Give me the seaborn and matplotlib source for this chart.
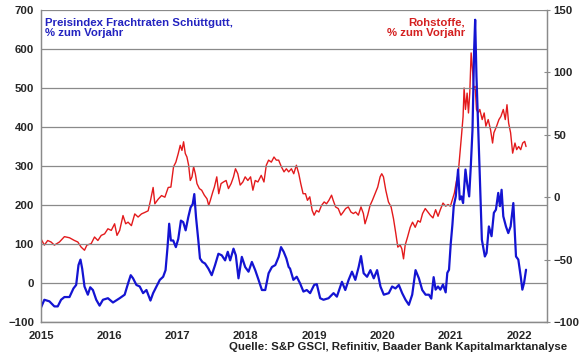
import pandas as pd
import matplotlib
matplotlib.use("Agg")
import matplotlib.pyplot as plt
import seaborn as sns

# Preisindex Frachtraten Schuettgut, % zum Vorjahr (linke Achse)
blue_year = [
    2015.000, 2015.049, 2015.123, 2015.196, 2015.245, 2015.294, 2015.343, 2015.417,
    2015.475, 2015.515, 2015.549, 2015.578, 2015.603, 2015.637, 2015.686, 2015.721,
    2015.760, 2015.809, 2015.858, 2015.907, 2015.980, 2016.054, 2016.152, 2016.225,
    2016.275, 2016.314, 2016.348, 2016.397, 2016.446, 2016.495, 2016.544, 2016.603,
    2016.642, 2016.691, 2016.740, 2016.789, 2016.824, 2016.853, 2016.877, 2016.902,
    2016.936, 2016.975, 2017.010, 2017.049, 2017.083, 2017.118, 2017.157, 2017.191,
    2017.221, 2017.245, 2017.270, 2017.304, 2017.328, 2017.363, 2017.402, 2017.451,
    2017.500, 2017.549, 2017.598, 2017.647, 2017.696, 2017.735, 2017.770, 2017.819,
    2017.853, 2017.892, 2017.941, 2017.990, 2018.039, 2018.088, 2018.137, 2018.186,
    2018.235, 2018.284, 2018.333, 2018.382, 2018.431, 2018.480, 2018.515, 2018.554,
    2018.593, 2018.627, 2018.647, 2018.696, 2018.745, 2018.794, 2018.843, 2018.892,
    2018.941, 2019.000, 2019.039, 2019.088, 2019.137, 2019.211, 2019.284, 2019.333,
    2019.407, 2019.456, 2019.505, 2019.554, 2019.603, 2019.652, 2019.686, 2019.725,
    2019.775, 2019.824, 2019.873, 2019.922, 2019.971, 2020.020, 2020.093, 2020.142,
    2020.191, 2020.240, 2020.289, 2020.338, 2020.387, 2020.436, 2020.485, 2020.534,
    2020.583, 2020.632, 2020.681, 2020.715, 2020.750, 2020.779, 2020.814, 2020.848,
    2020.887, 2020.926, 2020.950, 2020.975, 2021.000, 2021.025, 2021.044, 2021.074,
    2021.108, 2021.132, 2021.157, 2021.181, 2021.216, 2021.240, 2021.270, 2021.294,
    2021.319, 2021.343, 2021.358, 2021.377, 2021.402, 2021.426, 2021.456, 2021.500,
    2021.525, 2021.559, 2021.598, 2021.632, 2021.662, 2021.696, 2021.721, 2021.745,
    2021.770, 2021.809, 2021.843, 2021.877, 2021.917, 2021.956, 2021.990, 2022.025,
    2022.049, 2022.074, 2022.103,
]
blue_val = [
    -63, -43, -47, -60, -60, -43, -36, -36,
    -14, -5, 46, 60, 37, -9, -30, -11,
    -18, -43, -58, -43, -39, -50, -39, -30,
    -1, 20, 12, -5, -9, -26, -18, -45,
    -26, -9, 8, 16, 33, 92, 152, 109,
    109, 92, 113, 160, 156, 135, 169, 194,
    202, 228, 169, 109, 63, 54, 50, 37,
    20, 46, 75, 71, 58, 80, 58, 88,
    71, 12, 67, 41, 29, 54, 33, 8,
    -18, -18, 25, 41, 46, 67, 92, 80,
    63, 41, 37, 8, 16, -1, -22, -18,
    -26, -5, -3, -39, -43, -39, -26, -35,
    3, -18, 8, 29, 8, 41, 69, 25,
    16, 33, 12, 33, -9, -30, -26, -9,
    -14, -5, -26, -43, -56, -30, 33, 12,
    -18, -30, -30, -40, 15, -17, -9, -17,
    -4, -24, 26, 34, 100, 150, 197, 222,
    291, 214, 222, 205, 291, 256, 222, 299,
    393, 598, 675, 530, 402, 274, 111, 68,
    77, 145, 120, 180, 188, 231, 197, 239,
    171, 145, 128, 145, 205, 68, 60, 17,
    -17, 0, 34,
]

# Rohstoffe (S&P GSCI), % zum Vorjahr (rechte Achse)
red_year = [
    2015.000, 2015.049, 2015.098, 2015.147, 2015.196, 2015.270, 2015.343, 2015.417,
    2015.490, 2015.539, 2015.588, 2015.637, 2015.672, 2015.735, 2015.784, 2015.833,
    2015.882, 2015.931, 2015.980, 2016.029, 2016.078, 2016.113, 2016.152, 2016.201,
    2016.240, 2016.275, 2016.324, 2016.373, 2016.422, 2016.471, 2016.520, 2016.569,
    2016.603, 2016.642, 2016.667, 2016.716, 2016.765, 2016.814, 2016.838, 2016.863,
    2016.902, 2016.941, 2016.975, 2017.010, 2017.039, 2017.064, 2017.088, 2017.113,
    2017.137, 2017.162, 2017.186, 2017.211, 2017.235, 2017.260, 2017.284, 2017.319,
    2017.353, 2017.392, 2017.431, 2017.456, 2017.480, 2017.515, 2017.539, 2017.574,
    2017.603, 2017.637, 2017.672, 2017.711, 2017.745, 2017.784, 2017.819, 2017.848,
    2017.882, 2017.917, 2017.956, 2017.990, 2018.029, 2018.069, 2018.103, 2018.137,
    2018.176, 2018.225, 2018.265, 2018.299, 2018.333, 2018.373, 2018.412, 2018.446,
    2018.480, 2018.520, 2018.559, 2018.593, 2018.627, 2018.667, 2018.701, 2018.740,
    2018.775, 2018.804, 2018.838, 2018.873, 2018.902, 2018.936, 2018.971, 2019.000,
    2019.034, 2019.069, 2019.108, 2019.147, 2019.181, 2019.216, 2019.255, 2019.279,
    2019.314, 2019.353, 2019.392, 2019.426, 2019.461, 2019.500, 2019.539, 2019.574,
    2019.608, 2019.647, 2019.686, 2019.721, 2019.745, 2019.784, 2019.819, 2019.853,
    2019.892, 2019.931, 2019.966, 2019.990, 2020.015, 2020.049, 2020.088, 2020.127,
    2020.162, 2020.196, 2020.225, 2020.260, 2020.284, 2020.309, 2020.333, 2020.368,
    2020.407, 2020.441, 2020.480, 2020.520, 2020.554, 2020.588, 2020.627, 2020.667,
    2020.701, 2020.740, 2020.779, 2020.814, 2020.848, 2020.887, 2020.926, 2020.961,
    2020.995, 2021.025, 2021.054, 2021.083, 2021.108, 2021.132, 2021.157, 2021.181,
    2021.196, 2021.216, 2021.240, 2021.260, 2021.279, 2021.299, 2021.319, 2021.338,
    2021.358, 2021.377, 2021.402, 2021.426, 2021.461, 2021.490, 2021.515, 2021.549,
    2021.583, 2021.613, 2021.632, 2021.672, 2021.706, 2021.735, 2021.770, 2021.799,
    2021.824, 2021.848, 2021.877, 2021.907, 2021.941, 2021.966, 2021.995, 2022.025,
    2022.054, 2022.083, 2022.103,
]
red_val = [
    -33.4, -38.4, -34.7, -35.9, -38.4, -35.9, -31.6, -32.5,
    -34.7, -35.9, -40.0, -42.5, -38.4, -37.2, -31.9, -34.7,
    -30.6, -29.4, -25.3, -26.6, -21.3, -30.6, -26.6, -14.7,
    -21.3, -20.0, -22.8, -13.4, -15.9, -13.4, -12.2, -10.9,
    -2.8, 7.8, -5.3, -1.6, 1.3, 0.0, 3.8, 7.8,
    8.1, 24.4, 28.1, 35.0, 41.6, 37.5, 44.4, 35.0,
    32.2, 25.6, 13.4, 16.3, 24.4, 18.8, 10.9, 6.9,
    5.6, 1.6, -1.3, -6.6, -2.5, 4.1, 8.1, 16.3,
    2.8, 10.9, 12.2, 13.4, 6.9, 10.9, 16.3, 22.8,
    18.8, 9.7, 12.2, 16.3, 13.4, 16.3, 5.6, 13.4,
    12.2, 17.5, 12.2, 25.6, 29.7, 28.1, 32.2, 29.7,
    29.7, 24.4, 20.3, 22.8, 20.3, 22.8, 18.8, 25.6,
    18.8, 10.9, 2.8, 2.8, -2.5, 0.3, -10.6, -14.4,
    -10.6, -11.9, -6.6, -3.8, -5.3, -2.5, 1.6, -2.5,
    -7.8, -9.1, -14.4, -11.9, -9.1, -7.8, -11.9, -13.1,
    -11.9, -14.4, -7.8, -13.1, -21.3, -14.4, -6.6, -2.5,
    2.8, 8.1, 16.3, 18.8, 16.3, 5.6, -3.8, -7.8,
    -17.2, -29.1, -40.0, -38.4, -41.3, -49.4, -38.4, -31.9,
    -24.1, -20.0, -24.1, -18.8, -20.0, -13.1, -9.1, -11.9,
    -14.4, -16.6, -10.0, -15.3, -10.0, -4.7, -7.2, -5.9,
    -7.2, -1.9, 3.4, 12.8, 18.1, 32.8, 48.8, 64.7,
    87.5, 70.3, 83.4, 67.5, 83.4, 115.6, 102.2, 86.3,
    88.8, 70.3, 67.5, 70.3, 62.2, 67.5, 56.9, 62.2,
    54.1, 43.4, 51.6, 56.9, 62.2, 64.7, 70.3, 62.2,
    74.1, 59.4, 51.6, 35.3, 43.4, 38.1, 40.6, 38.1,
    43.4, 44.7, 40.6,
]

years = [2015, 2016, 2017, 2018, 2019, 2020, 2021, 2022]
left_ticks = [-100, 0, 100, 200, 300, 400, 500, 600, 700]
right_ticks = [-100, -50, 0, 50, 100, 150]

blue_df = pd.DataFrame({"Jahr": blue_year, "Wert": blue_val})
red_df = pd.DataFrame({"Jahr": red_year, "Wert": red_val})

sns.set_style("white")
plt.rcParams["font.family"] = ["Liberation Sans", "DejaVu Sans"]

BLUE = "#1414d2"
RED = "#e31a1c"
GRID = "#8a8a8a"
FS = 8.2

fig, ax = plt.subplots(figsize=(5.8, 3.59), dpi=100)
fig.subplots_adjust(left=41 / 580, right=547 / 580, top=1 - 10 / 359, bottom=1 - 322 / 359)

# red series on the right axis, blue on the left axis drawn on top
ax2 = ax.twinx()
ax.set_zorder(ax2.get_zorder() + 1)
ax.patch.set_visible(False)

sns.lineplot(data=red_df, x="Jahr", y="Wert", ax=ax2, color=RED, linewidth=1.0)
sns.lineplot(data=blue_df, x="Jahr", y="Wert", ax=ax, color=BLUE, linewidth=1.6)

ax.set_xlim(2015, 2022.41)
ax.set_ylim(-100, 700)
ax2.set_ylim(-100, 150)
ax.set_xticks(years)
ax.set_yticks(left_ticks)
ax2.set_yticks(right_ticks)
ax.set_xlabel("")
ax.set_ylabel("")
ax2.set_ylabel("")

ax.grid(axis="y", color=GRID, linewidth=0.9)
ax.grid(axis="x", visible=False)
ax2.grid(False)

for a in (ax, ax2):
    for side in ("left", "right", "bottom"):
        a.spines[side].set_color(GRID)
        a.spines[side].set_linewidth(0.9)
    a.spines["top"].set_visible(False)

ax.tick_params(axis="y", length=0, pad=5, labelsize=FS)
ax.tick_params(axis="x", length=2.5, width=0.8, color=GRID, direction="out", pad=4, labelsize=FS)
ax2.tick_params(axis="y", direction="inout", length=5, width=0.8, color=GRID, pad=2, labelsize=FS)

for lbl in ax.get_xticklabels() + ax.get_yticklabels() + ax2.get_yticklabels():
    lbl.set_fontweight("bold")

fig.text(45 / 580, 1 - 28 / 359, "Preisindex Frachtraten Schüttgutt,\n% zum Vorjahr",
         color="#2323c0", fontsize=FS, fontweight="bold", ha="left", va="center",
         linespacing=1.1)
fig.text(465 / 580, 1 - 28 / 359, "Rohstoffe,\n% zum Vorjahr",
         color="#d42020", fontsize=FS, fontweight="bold", ha="right", va="center",
         linespacing=1.1, multialignment="right")
fig.text(567 / 580, 1 - 347 / 359, "Quelle: S&P GSCI, Refinitiv, Baader Bank Kapitalmarktanalyse",
         color="#222222", fontsize=FS, fontweight="bold", ha="right", va="center")

plt.savefig("out.png", dpi=100)
